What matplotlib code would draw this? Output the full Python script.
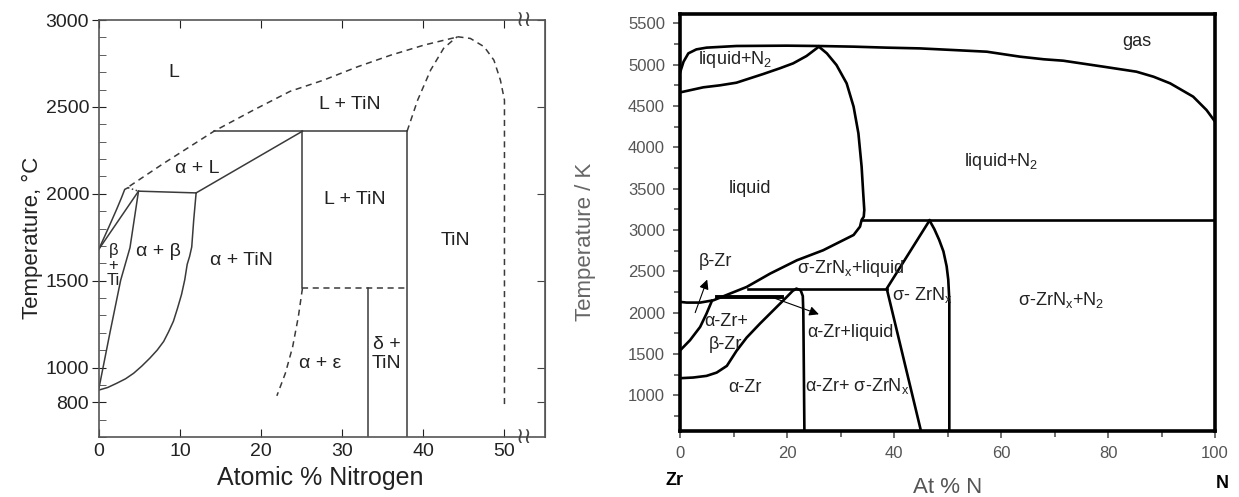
import numpy as np
import matplotlib.pyplot as plt
from matplotlib.ticker import MultipleLocator

plt.rcParams['font.family'] = ['Liberation Sans', 'DejaVu Sans']
plt.rcParams['mathtext.default'] = 'regular'

# ---------------- Ti-N diagram (left), T in degC ----------------
ti_xticks = [0, 10, 20, 30, 40, 50]
ti_yticks = [800, 1000, 1500, 2000, 2500, 3000]

# solid lines
beta_liq_x = [0, 1.2, 2.2, 2.8, 3.2, 3.6]
beta_liq_t = [1680, 1804, 1910, 1977, 2025, 2035]
beta_sol_x = [0, 4.9]
beta_sol_t = [1680, 2015]
ab_left_x = [0, 1.4, 2.7, 3.85, 4.9]
ab_left_t = [875, 1205, 1502, 1690, 2015]
ab_right_x = [0, 1.1, 2.2, 3.3, 4.3, 5.3, 6.3, 7.2, 8.0, 8.6, 9.2, 9.7, 10.2, 10.6,
              10.9, 11.2, 11.46, 11.7, 12.0]
ab_right_t = [870, 885, 909, 935, 967, 1008, 1054, 1100, 1150, 1205, 1266, 1340, 1420,
              1505, 1594, 1640, 1694, 1847, 2005]
peri1_x = [4.9, 12.0]
peri1_t = [2015, 2005]
alpha_liq_x = [12.0, 25.1]
alpha_liq_t = [2005, 2360]
peri2_x = [14.2, 38.0]
peri2_t = [2360, 2360]
v25_x = [25.1, 25.1]
v25_t = [2360, 1455]
v38_x = [38.0, 38.0]
v38_t = [2360, 600]
v33_x = [33.2, 33.2]
v33_t = [1455, 600]

# dashed / dotted lines
dot_x = [3.6, 4.9]
dot_t = [2035, 2015]
h1455_x = [25.1, 38.0]
h1455_t = [1455, 1455]
ae_x = [25.1, 24.6, 23.9, 23.0, 21.95]
ae_t = [1455, 1293, 1120, 967, 837]
liq_x = [3.8, 8.0, 14.2, 19.0, 23.6, 27.7, 31.9, 36.0, 40.1, 43.8, 44.2]
liq_t = [2044, 2175, 2360, 2480, 2590, 2654, 2731, 2798, 2856, 2898, 2904]
tin_left_x = [38.0, 39.3, 40.9, 42.5, 43.8, 44.2]
tin_left_t = [2360, 2539, 2712, 2837, 2890, 2904]
tin_right_x = [44.2, 45.8, 47.5, 48.7, 49.5, 50.0, 50.0, 50.0]
tin_right_t = [2904, 2894, 2846, 2769, 2654, 2539, 2348, 775]

ti_labels = [
    (9.3, 2700, 'L'), (31.0, 2512, 'L + TiN'), (12.2, 2143, 'α + L'),
    (31.5, 1966, 'L + TiN'), (43.9, 1732, 'TiN'), (7.3, 1665, 'α + β'),
    (17.6, 1618, 'α + TiN'), (27.3, 1025, 'α + ε'), (35.5, 1078, 'δ +\nTiN'),
]

# ---------------- Zr-N diagram (right), T in K ----------------
gas_x = [0, 0.6, 1.5, 3.0, 4.9, 10.5, 19.9, 25.8, 32.4, 38.6, 44.8, 51.1, 57.3,
         63.5, 68.0, 71.6, 79.1, 85.3, 88.5, 91.6, 95.9, 98.4, 100]
gas_t = [4915, 5036, 5137, 5185, 5206, 5226, 5230, 5226, 5218, 5206, 5197, 5177,
         5157, 5097, 5065, 5048, 4976, 4915, 4854, 4774, 4613, 4451, 4310]
ln2_x = [0, 4.3, 7.4, 10.5, 12.4, 15.5, 18.6, 21.1, 23.6, 25.5, 25.9]
ln2_t = [4665, 4726, 4750, 4782, 4822, 4887, 4956, 5016, 5105, 5198, 5218]
liq_r_x = [25.9, 27.4, 29.2, 31.1, 32.4, 33.3, 33.9, 34.2, 34.4, 34.3, 33.9,
           33.6, 32.4, 29.9, 26.7, 21.8, 16.8, 12.4, 9.3, 6.2, 3.7, 1.2, 0]
liq_r_t = [5218, 5137, 4996, 4774, 4492, 4169, 3766, 3443, 3242, 3160, 3121,
           3040, 2939, 2858, 2754, 2633, 2472, 2310, 2230, 2149, 2121, 2121, 2129]
bz_x = [0, 1.8, 3.7, 4.9, 5.9]
bz_t = [1545, 1665, 1826, 1988, 2141]
azb_x = [0, 2.4, 4.9, 6.8, 8.7, 10.5, 12.4, 14.9, 17.4, 19.9, 21.0, 21.7,
         22.5, 22.9, 23.0, 23.2]
azb_t = [1206, 1214, 1234, 1274, 1355, 1536, 1697, 1867, 2028, 2189, 2262, 2290,
         2270, 2200, 2000, 567]
h3120_x = [33.9, 100]
h3120_t = [3120, 3120]
h2290_x = [12.7, 38.6]
h2290_t = [2290, 2290]
h2189_x = [6.8, 18.95]
h2189_t = [2189, 2189]
sig_l_x = [45.0, 38.6, 46.6]
sig_l_t = [567, 2290, 3115]
sig_r_x = [46.6, 47.5, 48.4, 49.2, 49.8, 50.1, 50.3, 50.3]
sig_r_t = [3115, 3010, 2880, 2740, 2560, 2400, 2150, 567]

zr_labels = [
    (10.2, 5057, 'liquid+N$_2$'), (85.4, 5278, 'gas'), (60.0, 3828, 'liquid+N$_2$'),
    (13.1, 3506, 'liquid'), (6.5, 2619, 'β-Zr'), (31.9, 2535, 'σ-ZrN$_x$+liquid'),
    (45.2, 2216, 'σ- ZrN$_x$'), (71.2, 2156, 'σ-ZrN$_x$+N$_2$'),
    (8.5, 1753, 'α-Zr+\nβ-Zr'), (31.9, 1753, 'α-Zr+liquid'), (12.0, 1088, 'α-Zr'),
    (33.0, 1108, 'α-Zr+ σ-ZrN$_x$'),
]

fig = plt.figure(figsize=(12.39, 4.97), dpi=100)

# ---------- left panel ----------
ax1 = fig.add_axes([0.0797, 0.1207, 0.3602, 0.839])
lc = '#3a3a3a'
for xs, ts in [(beta_liq_x, beta_liq_t), (beta_sol_x, beta_sol_t), (ab_left_x, ab_left_t),
               (ab_right_x, ab_right_t), (peri1_x, peri1_t), (alpha_liq_x, alpha_liq_t),
               (peri2_x, peri2_t), (v25_x, v25_t), (v38_x, v38_t), (v33_x, v33_t)]:
    ax1.plot(xs, ts, color=lc, lw=1.1)
for xs, ts in [(h1455_x, h1455_t), (ae_x, ae_t), (liq_x, liq_t),
               (tin_left_x, tin_left_t), (tin_right_x, tin_right_t)]:
    ax1.plot(xs, ts, color=lc, lw=1.1, dashes=(4, 3))
ax1.plot(dot_x, dot_t, color=lc, lw=1.1, ls=':')

for x, t, s in ti_labels:
    ax1.text(x, t, s, fontsize=14, ha='center', va='center', color='#222')
ax1.text(1.8, 1585, 'β\n+\nTi', fontsize=12, ha='center', va='center',
         linespacing=1.0, color='#222')

ax1.set_xlim(0, 55)
ax1.set_ylim(600, 3000)
ax1.set_xticks(ti_xticks)
ax1.set_yticks(ti_yticks)
ax1.yaxis.set_minor_locator(MultipleLocator(100))
ax1.tick_params(axis='x', which='major', direction='in', top=True, bottom=True,
                length=6, labelsize=14, pad=4, colors='#222')
ax1.tick_params(axis='y', which='major', direction='inout', left=True, right=False,
                length=10, labelsize=14, pad=2, colors='#222')
ax1.tick_params(axis='y', which='minor', direction='in', left=True, right=False, length=5,
                colors='#444')
sec = ax1.secondary_yaxis('right')
sec.set_yticks(ti_yticks)
sec.tick_params(direction='in', length=6, labelright=False, colors='#444')
sec.spines['right'].set_color('#555')
for sp in ax1.spines.values():
    sp.set_color('#555')
    sp.set_linewidth(1.2)
for yb in ax1.get_ylim():
    ax1.text(52.4, yb, '≀≀', fontsize=16, ha='center', va='center', color='#444',
             family='DejaVu Sans', clip_on=False)
ax1.set_xlabel('Atomic % Nitrogen', fontsize=18, color='#222')
ax1.xaxis.set_label_coords(0.496, -0.07)
ax1.set_ylabel('Temperature, °C', fontsize=16, color='#222')
ax1.yaxis.set_label_coords(-0.125, 0.477)

# ---------- right panel ----------
ax2 = fig.add_axes([0.5491, 0.1328, 0.4316, 0.839])
for xs, ts in [(gas_x, gas_t), (ln2_x, ln2_t), (liq_r_x, liq_r_t), (bz_x, bz_t),
               (azb_x, azb_t), (h3120_x, h3120_t), (h2290_x, h2290_t),
               (sig_l_x, sig_l_t), (sig_r_x, sig_r_t)]:
    ax2.plot(xs, ts, color='black', lw=1.9)
ax2.plot(h2189_x, h2189_t, color='black', lw=2.8)

ax2.annotate('', xy=(5.2, 2431), xytext=(2.6, 1968),
             arrowprops=dict(arrowstyle='-|>', color='black', lw=0.8, mutation_scale=14))
ax2.annotate('', xy=(26.4, 1968), xytext=(16.1, 2210),
             arrowprops=dict(arrowstyle='-|>', color='black', lw=0.8, mutation_scale=14))

for x, t, s in zr_labels:
    ax2.text(x, t, s, fontsize=13, ha='center', va='center', color='#222', linespacing=1.5)

ax2.set_xlim(0, 100)
ax2.set_ylim(567, 5613)
ax2.set_xticks(range(0, 101, 20))
ax2.set_yticks(range(1000, 5501, 500))
ax2.xaxis.set_minor_locator(MultipleLocator(10))
ax2.yaxis.set_minor_locator(MultipleLocator(250))
ax2.tick_params(which='major', direction='out', length=5, width=1.2, labelsize=12,
                colors='#555', pad=6)
ax2.tick_params(which='minor', direction='out', length=4, width=1.2, colors='#555')
for sp in ax2.spines.values():
    sp.set_color('black')
    sp.set_linewidth(2.6)
ax2.set_xlabel('At % N', fontsize=16, color='#555')
ax2.xaxis.set_label_coords(0.5, -0.11)
ax2.set_ylabel('Temperature / K', fontsize=16, color='#666')
ax2.yaxis.set_label_coords(-0.158, 0.453)
ax2.text(-0.01, -0.118, 'Zr', transform=ax2.transAxes, fontsize=13, fontweight='bold',
         ha='center', va='center')
ax2.text(1.013, -0.125, 'N', transform=ax2.transAxes, fontsize=13, fontweight='bold',
         ha='center', va='center')

fig.savefig('out.png', dpi=100, facecolor='white')
